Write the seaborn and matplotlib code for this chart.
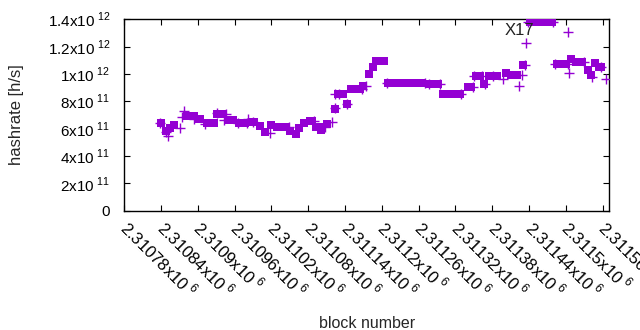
import numpy as np
import pandas as pd
import matplotlib
matplotlib.use("Agg")
import matplotlib.pyplot as plt
import matplotlib.transforms as mtransforms
import seaborn as sns

BASE = 2310780
# piecewise-constant hashrate runs (square markers): start block offset, end block offset, value (x1e11 h/s)
seg_start = [60, 69, 75, 82, 103, 122, 135, 152, 171, 188, 209, 222, 230, 240, 250, 271, 281, 285, 294, 303,
             312, 321, 331, 343, 349, 364, 370, 390, 400, 405, 411, 431, 499, 520, 560, 574, 587, 595, 622, 630,
             651, 662, 706, 729, 737, 757, 762, 767, 775]
seg_end = [60, 69, 75, 82, 114, 124, 147, 161, 178, 197, 212, 222, 230, 240, 264, 271, 281, 285, 294, 307,
           318, 321, 331, 343, 357, 364, 385, 390, 400, 405, 423, 486, 512, 548, 566, 581, 587, 608, 622, 641,
           651, 697, 721, 729, 747, 757, 762, 767, 778]
seg_value = [6.38, 5.83, 6.05, 6.27, 6.93, 6.71, 6.42, 7.10, 6.63, 6.38, 6.49, 6.20, 5.76, 6.27, 6.12, 5.85,
             5.61, 6.05, 6.39, 6.56, 6.12, 5.90, 6.34, 7.44, 8.54, 7.81, 8.90, 9.12, 10.0, 10.48, 10.95, 9.32,
             9.27, 8.54, 9.05, 9.85, 9.27, 9.82, 10.05, 9.95, 10.66, 13.77, 10.73, 11.10, 10.88, 10.27, 9.90,
             10.80, 10.51]

# individual estimates (plus markers): block offset, value (x1e11 h/s)
plus_block = [58, 69, 72, 91, 97, 95, 114, 132, 152, 163, 202, 238, 339, 344, 364, 344, 589, 617, 644, 656,
              724, 726, 763, 785, 428, 490, 497, 515, 568, 584, 700, 659, 703, 724, 648, 654, 602, 570, 750,
              778, 550, 186, 200, 166, 210, 268, 310, 327, 350, 387, 395]
plus_value = [6.39, 5.78, 5.50, 6.05, 7.29, 6.85, 6.71, 6.32, 7.15, 6.63, 6.71, 5.68, 6.51, 7.49, 7.78, 8.54,
              9.27, 9.61, 9.14, 12.25, 13.05, 10.10, 9.76, 9.61, 9.32, 9.32, 9.27, 9.27, 9.05, 9.85, 13.77,
              13.77, 10.73, 10.73, 9.95, 10.66, 9.82, 9.85, 10.88, 10.51, 8.54, 6.38, 6.38, 7.10, 6.49, 6.12,
              6.56, 6.12, 8.54, 8.90, 9.12]

xtick_mant = ["2.31078", "2.31084", "2.3109", "2.31096", "2.31102", "2.31108", "2.31114", "2.3112",
              "2.31126", "2.31132", "2.31138", "2.31144", "2.3115", "2.31156"]
ytick_vals = [0, 2e11, 4e11, 6e11, 8e11, 1e12, 1.2e12, 1.4e12]
ytick_text = ["0", "2x10$^{\\mathregular{\\ 11}}$", "4x10$^{\\mathregular{\\ 11}}$", "6x10$^{\\mathregular{\\ 11}}$",
              "8x10$^{\\mathregular{\\ 11}}$", "1x10$^{\\mathregular{\\ 12}}$", "1.2x10$^{\\mathregular{\\ 12}}$",
              "1.4x10$^{\\mathregular{\\ 12}}$"]

sns.set_theme(style="white")
plt.rcParams["font.family"] = ["Liberation Sans", "DejaVu Sans"]
plt.rcParams["mathtext.fontset"] = "custom"
plt.rcParams["mathtext.rm"] = "Liberation Sans"

color = "#9400D3"

sq_x, sq_y = [], []
for s, e, v in zip(seg_start, seg_end, seg_value):
    for b in range(s, e + 1):
        sq_x.append(BASE + b)
        sq_y.append(v * 1e11)
df_sq = pd.DataFrame({"block": sq_x, "hashrate": sq_y})
df_pl = pd.DataFrame({"block": [BASE + b for b in plus_block],
                      "hashrate": [v * 1e11 for v in plus_value]})

fig = plt.figure(figsize=(6.4, 3.3), dpi=100)
ax = fig.add_axes([0.194, 0.361, 0.758, 0.581])

sns.scatterplot(data=df_sq, x="block", y="hashrate", marker="s", s=26, color=color,
                linewidth=0, ax=ax, zorder=3)
sns.scatterplot(data=df_pl, x="block", y="hashrate", marker="+", s=60, color=color,
                linewidth=1.0, ax=ax, zorder=3)

xticks = [float(m) * 1e6 for m in xtick_mant]
ax.set_xlim(BASE, BASE + 791)
ax.set_ylim(0, 1.4e12)
ax.set_xticks(xticks)
ax.set_xticklabels([m + "x10$^{\\mathregular{\\ 6}}$" for m in xtick_mant], rotation=-45,
                   ha="left", va="top", rotation_mode="anchor", fontsize=12)
ax.set_yticks(ytick_vals)
ax.set_yticklabels(ytick_text, fontsize=11)

ax.tick_params(direction="in", length=4, width=0.8, top=True, right=True,
               bottom=True, left=True, pad=4, colors="black")
ax.tick_params(axis="x", pad=4)
ax.tick_params(axis="y", pad=10)
shift = mtransforms.ScaledTranslation(5 / 72, 0, fig.dpi_scale_trans)
for lab in ax.get_xticklabels():
    lab.set_transform(lab.get_transform() + shift)
for sp in ax.spines.values():
    sp.set_visible(True)
    sp.set_color("black")
    sp.set_linewidth(1.0)

ax.set_xlabel("block number", fontsize=11.5)
ax.set_ylabel("hashrate [h/s]", fontsize=12, va="center")
ax.xaxis.set_label_coords(0.5, -0.55)
ax.yaxis.set_label_coords(-0.222, 0.5)

ax.text(BASE + 645, 1.315e12, "X17", fontsize=12, ha="center", va="center", color="#222222")

fig.savefig("out.png", dpi=100)
